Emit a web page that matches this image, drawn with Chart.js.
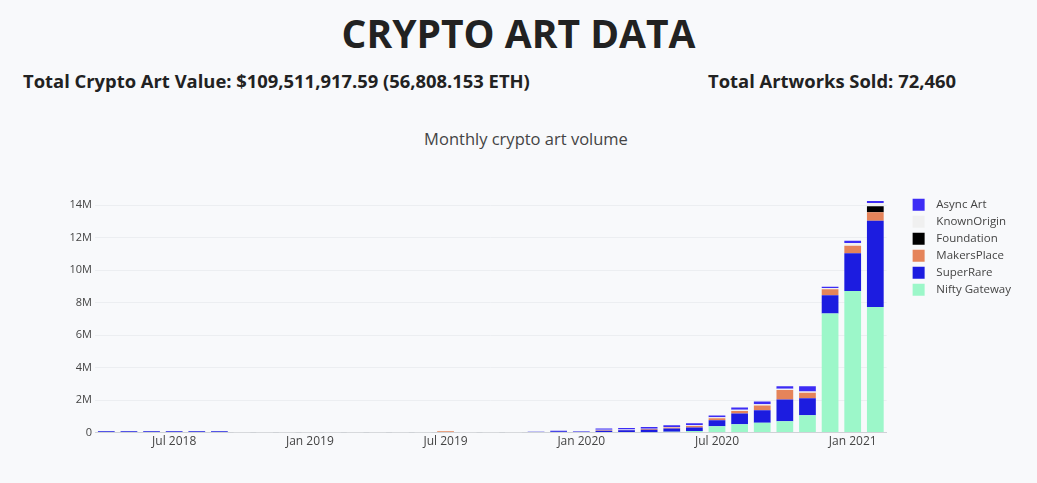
<!DOCTYPE html>
<html>
<head>
<meta charset="utf-8">
<title>Crypto Art Data</title>
<script src="https://cdn.jsdelivr.net/npm/chart.js@4.4.1/dist/chart.umd.min.js"></script>
<style>
  html, body { margin: 0; padding: 0; background: #f8f9fb; }
  body { width: 1037px; height: 483px; position: relative; overflow: hidden; font-family: 'Open Sans', sans-serif; color: #222; }
  h1 { position: absolute; top: 8px; left: 0; width: 1037px; margin: 0; text-align: center; font-size: 39px; font-weight: 700; line-height: 50px; color: #222; }
  .stat { position: absolute; top: 68px; margin: 0; font-size: 18.4px; font-weight: 700; line-height: 26px; color: #222; }
  #left { left: 23px; }
  #right { left: 708px; }
  #chartTitle { position: absolute; top: 127px; left: 326px; width: 400px; text-align: center; font-size: 16.5px; line-height: 24px; color: #444; }
  #canvasDiv { position: absolute; left: 0; top: 115px; width: 1037px; height: 368px; }
</style>
</head>
<body>
<h1>CRYPTO ART DATA</h1>
<p class="stat" id="left">Total Crypto Art Value: $109,511,917.59 (56,808.153 ETH)</p>
<p class="stat" id="right">Total Artworks Sold: 72,460</p>
<div id="chartTitle">Monthly crypto art volume</div>
<div id="canvasDiv"><canvas id="canvas"></canvas></div>
<script>
// months, Apr 2018 .. Feb 2021
const months = [
  'Apr 2018','May 2018','Jun 2018','Jul 2018','Aug 2018','Sep 2018',
  'Oct 2018','Nov 2018','Dec 2018','Jan 2019','Feb 2019','Mar 2019',
  'Apr 2019','May 2019','Jun 2019','Jul 2019','Aug 2019','Sep 2019',
  'Oct 2019','Nov 2019','Dec 2019','Jan 2020','Feb 2020','Mar 2020',
  'Apr 2020','May 2020','Jun 2020','Jul 2020','Aug 2020','Sep 2020',
  'Oct 2020','Nov 2020','Dec 2020','Jan 2021','Feb 2021'
];

// monthly volume in USD
const niftyGateway = [
  0,0,0,0,0,0, 0,0,0,0,0,0, 0,0,0,0,0,0, 0,0,0,0,0,0,
  20000,50000,100000,390000,510000,600000,700000,1070000,7340000,8720000,7730000
];
const superRare = [
  80000,80000,80000,80000,80000,80000, 0,0,0,0,0,0, 0,0,0,0,0,0,
  0,60000,80000,60000,120000,140000,
  160000,200000,220000,370000,660000,780000,1340000,1050000,1110000,2320000,5310000
];
const makersPlace = [
  0,0,0,0,0,0, 0,0,0,0,0,0, 0,0,0,80000,0,0, 0,0,0,0,30000,20000,
  40000,60000,80000,120000,160000,290000,580000,330000,370000,470000,530000
];
const foundation = [
  0,0,0,0,0,0, 0,0,0,0,0,0, 0,0,0,0,0,0, 0,0,0,0,0,0,
  0,0,0,0,0,0,0,0,0,0,370000
];
const knownOrigin = [
  0,0,0,0,0,0, 12000,12000,12000,12000,12000,12000, 12000,12000,12000,0,12000,12000,
  12000,0,10000,10000,20000,30000,
  20000,40000,60000,60000,80000,80000,80000,80000,80000,170000,200000
];
const asyncArt = [
  0,0,0,0,0,0, 0,0,0,0,0,0, 0,0,0,0,0,0, 0,0,20000,30000,90000,100000,
  100000,100000,120000,110000,130000,160000,160000,330000,80000,140000,120000
];

const yTicks = [0, 2e6, 4e6, 6e6, 8e6, 10e6, 12e6, 14e6];

const series = [
  {label: 'Nifty Gateway', data: niftyGateway, color: '#9cf7c9'},
  {label: 'SuperRare', data: superRare, color: '#1c1ce0'},
  {label: 'MakersPlace', data: makersPlace, color: '#e5845a'},
  {label: 'Foundation', data: foundation, color: '#000000'},
  {label: 'KnownOrigin', data: knownOrigin, color: '#f0f0f0'},
  {label: 'Async Art', data: asyncArt, color: '#3d2cf5'}
];

Chart.defaults.font.family = "'Open Sans', sans-serif";
Chart.defaults.color = '#444';

const ctx = document.getElementById('canvas').getContext('2d');
const myChart = new Chart(ctx, {
  type: 'bar',
  data: {
    labels: months,
    datasets: series.map(s => ({
      label: s.label,
      data: s.data,
      backgroundColor: s.color,
      borderWidth: 0,
      categoryPercentage: 1,
      barPercentage: 0.74
    }))
  },
  options: {
    responsive: true,
    maintainAspectRatio: false,
    animation: false,
    layout: { padding: { left: 0, right: 16, top: 74, bottom: 32 } },
    plugins: {
      title: { display: false },
      legend: {
        position: 'right',
        align: 'start',
        fullSize: false,
        reverse: true,
        title: { display: true, text: '', padding: 0, font: { size: 4 } },
        labels: {
          boxWidth: 12,
          boxHeight: 12,
          padding: 5,
          color: '#444',
          font: { size: 11.5 },
          // a little more room between swatch and name
          generateLabels: chart => Chart.defaults.plugins.legend.labels.generateLabels(chart)
            .map(l => Object.assign(l, { text: '  ' + l.text }))
        }
      },
      tooltip: { enabled: false }
    },
    scales: {
      x: {
        stacked: true,
        grid: { display: false, drawTicks: false, tickLength: 0 },
        border: { display: true, color: '#cfd2d6', width: 1 },
        ticks: {
          autoSkip: false,
          maxRotation: 0,
          padding: 2,
          font: { size: 12 },
          callback: function(v, i) {
            const m = months[i];
            return (m.startsWith('Jan') || m.startsWith('Jul')) ? m : '';
          }
        }
      },
      y: {
        stacked: true,
        min: 0,
        max: 15e6,
        grid: { color: '#eceef1', drawTicks: false },
        border: { display: false },
        ticks: {
          padding: 3,
          font: { size: 11 },
          callback: v => v === 0 ? '0' : (v / 1e6) + 'M'
        },
        afterBuildTicks: s => { s.ticks = yTicks.map(v => ({ value: v })); },
        afterFit: s => { s.width = 95; }
      },
      gap: {
        position: 'right',
        display: true,
        grid: { display: false },
        border: { display: false },
        ticks: { display: false },
        afterFit: s => { s.width = 21; }
      }
    }
  }
});
</script>
</body>
</html>
